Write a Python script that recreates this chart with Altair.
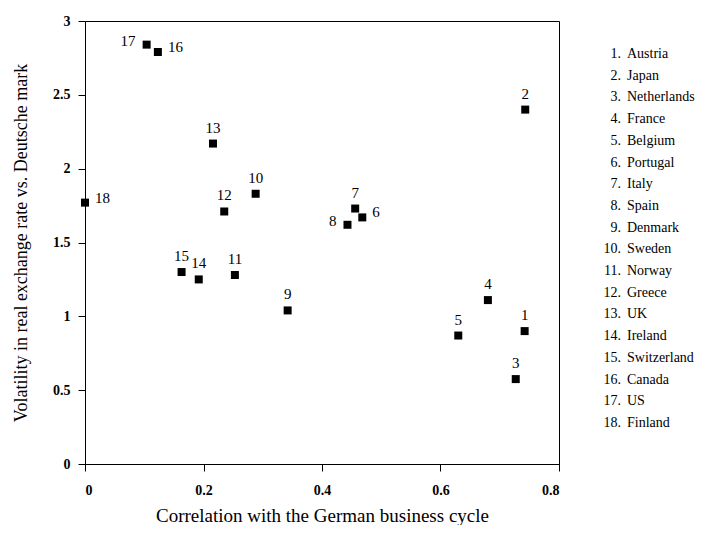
import altair as alt
import pandas as pd

ids = list(range(1, 19))
names = ["Austria", "Japan", "Netherlands", "France", "Belgium", "Portugal",
         "Italy", "Spain", "Denmark", "Sweden", "Norway", "Greece", "UK",
         "Ireland", "Switzerland", "Canada", "US", "Finland"]
corr = [0.742, 0.743, 0.727, 0.680, 0.630, 0.468, 0.456, 0.443, 0.342,
        0.288, 0.253, 0.235, 0.216, 0.192, 0.163, 0.123, 0.104, 0.000]
vol = [0.90, 2.40, 0.575, 1.11, 0.87, 1.67, 1.73, 1.62, 1.04,
       1.83, 1.28, 1.71, 2.17, 1.25, 1.30, 2.79, 2.84, 1.77]
label_pos = ["above", "above", "above", "above", "above", "right", "above",
             "left", "above", "above", "above", "above", "above", "above",
             "above", "right", "left", "right"]

df = pd.DataFrame({"id": ids, "name": names, "corr": corr, "vol": vol,
                   "pos": label_pos})
df["idtxt"] = df["id"].astype(str)
df["num"] = df["id"].astype(str) + "."

FONT = "Liberation Serif"
W, H = 474, 443

xs = alt.Scale(domain=[0, 0.8], nice=False)
ys = alt.Scale(domain=[0, 3], nice=False)

base = alt.Chart(df)

axis_common = dict(grid=False, labelExpr="datum.value", tickSize=7,
                   labelFont=FONT, titleFont=FONT, labelFontSize=14,
                   labelFontWeight="bold", titleFontWeight="normal",
                   labelColor="black", titleColor="black",
                   domainColor="black", tickColor="black")

points = base.mark_square(size=64, color="black", opacity=1).encode(
    x=alt.X("corr:Q", scale=xs,
            axis=alt.Axis(title="Correlation with the German business cycle",
                          values=[0, 0.2, 0.4, 0.6, 0.8], labelPadding=12,
                          titlePadding=9, titleFontSize=19, **axis_common)),
    y=alt.Y("vol:Q", scale=ys,
            axis=alt.Axis(title="Volatility in real exchange rate vs. Deutsche mark",
                          values=[0, 0.5, 1, 1.5, 2, 2.5, 3], labelPadding=8,
                          titlePadding=22, titleFontSize=18, **axis_common)),
)

above = base.transform_filter("datum.pos == 'above'").mark_text(
    font=FONT, fontSize=15, color="black", baseline="middle", align="center",
    dy=-16).encode(x=alt.X("corr:Q", scale=xs), y=alt.Y("vol:Q", scale=ys),
                   text="idtxt:N")
right = base.transform_filter("datum.pos == 'right'").mark_text(
    font=FONT, fontSize=15, color="black", baseline="middle", align="left",
    dx=10, dy=-5).encode(x=alt.X("corr:Q", scale=xs), y=alt.Y("vol:Q", scale=ys),
                         text="idtxt:N")
left = base.transform_filter("datum.pos == 'left'").mark_text(
    font=FONT, fontSize=15, color="black", baseline="middle", align="right",
    dx=-11, dy=-4).encode(x=alt.X("corr:Q", scale=xs), y=alt.Y("vol:Q", scale=ys),
                          text="idtxt:N")

legend_y = alt.Y("id:Q", scale=alt.Scale(domain=[-0.52, 19.89], reverse=True),
                 axis=None)
leg_num = base.mark_text(font=FONT, fontSize=14, color="black", align="right",
                         baseline="middle").encode(
    x=alt.value(536), y=legend_y, text="num:N")
leg_name = base.mark_text(font=FONT, fontSize=14, color="black", align="left",
                          baseline="middle").encode(
    x=alt.value(542), y=legend_y, text="name:N")

main = alt.layer(points, above, right, left)
leg = alt.layer(leg_num, leg_name)

chart = alt.layer(main, leg).resolve_scale(y="independent").properties(
    width=W, height=H, padding={"left": 4, "top": 6, "right": 0, "bottom": 0}
).configure_view(stroke="black", strokeWidth=1)

chart.save("out.html", embed_options={"renderer": "svg", "actions": False})
